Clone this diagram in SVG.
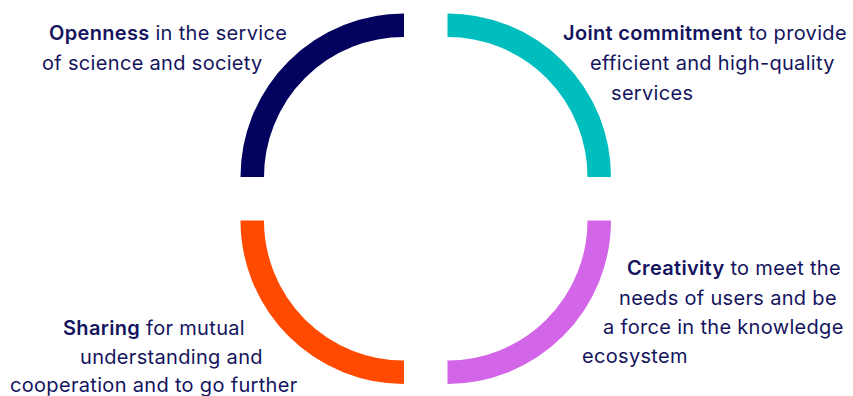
<svg xmlns="http://www.w3.org/2000/svg" width="853" height="396" viewBox="0 0 853 396">
<style>
.arc{fill:none;stroke-width:23.5;stroke-linecap:butt}
text{font-family:Inter,"Noto Sans",sans-serif;font-size:20px;letter-spacing:0.32px;fill:#14145e}
.b{font-weight:600}
</style>
<rect width="853" height="396" fill="#fff"/>
<g id="connectors"></g>
<g id="openness">
<path class="arc" stroke="#03035f" d="M252.25 177A151.75 151.75 0 0 1 404 25.25"/>
<text x="49" y="40"><tspan class="b">Openness</tspan> in the service</text>
<text x="42" y="70">of science and society</text>
</g>
<g id="joint">
<path class="arc" stroke="#00bebe" d="M447.5 25.25A151.75 151.75 0 0 1 599.25 177"/>
<text x="563" y="40"><tspan class="b">Joint commitment</tspan> to provide</text>
<text x="590" y="70">efficient and high-quality</text>
<text x="611" y="100">services</text>
</g>
<g id="creativity">
<path class="arc" stroke="#d366e8" d="M599.25 220.5A151.75 151.75 0 0 1 447.5 372.25"/>
<text x="627" y="275"><tspan class="b">Creativity</tspan> to meet the</text>
<text x="619" y="305">needs of users and be</text>
<text x="603" y="334">a force in the knowledge</text>
<text x="582" y="363">ecosystem</text>
</g>
<g id="sharing">
<path class="arc" stroke="#ff4a00" d="M404 372.25A151.75 151.75 0 0 1 252.25 220.5"/>
<text x="63" y="335"><tspan class="b">Sharing</tspan> for mutual</text>
<text x="80" y="364">understanding and</text>
<text x="10" y="392">cooperation and to go further</text>
</g>
</svg>
